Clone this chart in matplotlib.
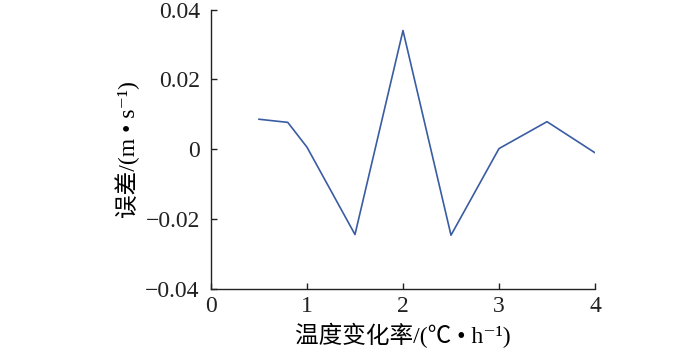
import numpy as np
import matplotlib
matplotlib.use("Agg")
import matplotlib.pyplot as plt

# data
rate = [0.5, 0.8, 1.0, 1.5, 2.0, 2.5, 3.0, 3.5, 4.0]
err = [0.0086, 0.0077, 0.0006, -0.0244, 0.0340, -0.0246, 0.0002, 0.0079, -0.0010]

xticks = [0, 1, 2, 3, 4]
yticks = [-0.04, -0.02, 0, 0.02, 0.04]
yticklabels = ['\u22120.04', '\u22120.02', '0', '0.02', '0.04']

plt.rcParams['font.family'] = ['Liberation Serif', 'Noto Sans CJK SC', 'DejaVu Serif']

fig = plt.figure(figsize=(7, 3.54), dpi=100)
ax = fig.add_axes([0.3014, 0.1836, 0.5486, 0.7894])

ax.plot(rate, err, color='#3a5ca2', lw=1.2)

ax.set_xlim(0, 4)
ax.set_ylim(-0.04, 0.04)
ax.set_xticks(xticks)
ax.set_xticklabels([str(t) for t in xticks])
ax.set_yticks(yticks)
ax.set_yticklabels(yticklabels)

for s in ['top', 'right']:
    ax.spines[s].set_visible(False)
for s in ['left', 'bottom']:
    ax.spines[s].set_linewidth(1.0)
    ax.spines[s].set_color('#222222')

ax.tick_params(direction='in', length=4, width=1.0, labelsize=17, pad=5, colors='#222222')
ax.tick_params(axis='y', pad=8)

ax.set_xlabel('温度变化率/(℃ • h\u207b\u00b9)', fontsize=17, labelpad=4)
ax.set_ylabel('误差/(m • s\u207b\u00b9)', fontsize=17, labelpad=4)

fig.savefig('out.png', dpi=100)
